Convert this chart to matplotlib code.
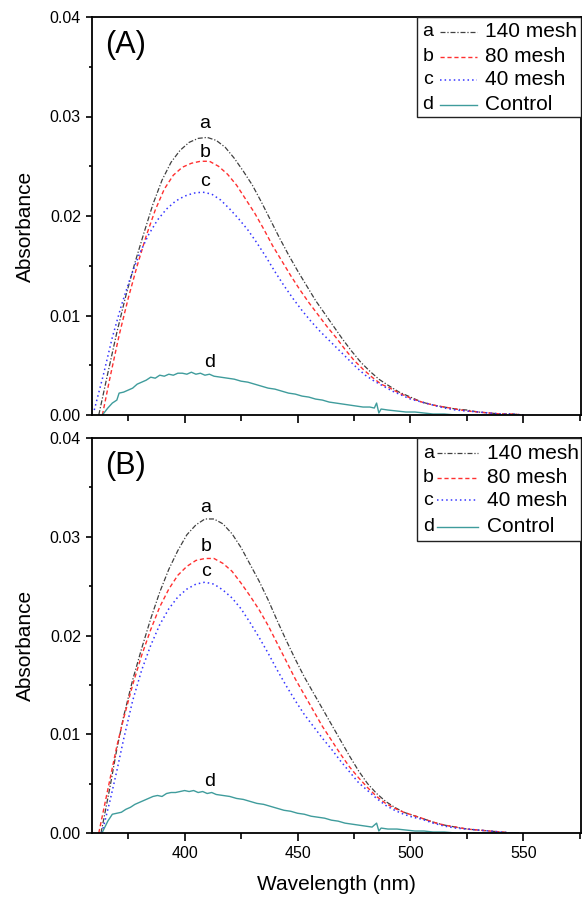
import matplotlib
matplotlib.use("Agg")
import matplotlib.pyplot as plt
from matplotlib.patches import Rectangle
from matplotlib.lines import Line2D
from matplotlib.ticker import MultipleLocator, FormatStrFormatter

plt.rcParams['font.family'] = ['Liberation Sans', 'DejaVu Sans']

# ---------------- Panel A data ----------------
A_a_wl = [362, 366, 370, 374, 378, 382, 386, 390, 394, 398, 402, 406, 410, 414, 418, 422, 426, 430,
          434, 438, 442, 446, 450, 454, 458, 462, 466, 470, 474, 478, 482, 486, 490, 495, 500, 505,
          510, 515, 520, 525, 530, 535, 540, 545, 550]
A_a = [0.0000, 0.0042, 0.0083, 0.0120, 0.0153, 0.0183, 0.0212, 0.0236, 0.0254, 0.0266, 0.0274, 0.0278,
       0.0279, 0.0276, 0.0269, 0.0258, 0.0245, 0.0231, 0.0214, 0.0196, 0.0178, 0.0161, 0.0145, 0.0130,
       0.0115, 0.0102, 0.0089, 0.0076, 0.0064, 0.0053, 0.0044, 0.0036, 0.0030, 0.0023, 0.0018, 0.0013,
       0.0010, 0.0008, 0.0006, 0.0005, 0.0003, 0.0002, 0.0001, 0.0001, 0.0000]

A_b_wl = [363.6, 367, 371, 375, 379, 383, 387, 391, 395, 399, 403, 407, 411, 415, 419, 423, 427, 431,
          435, 439, 443, 447, 451, 455, 459, 463, 467, 471, 475, 479, 483, 487, 491, 495, 500, 505,
          510, 515, 520, 525, 530, 535, 540, 545, 550]
A_b = [0.0000, 0.0038, 0.0080, 0.0117, 0.0150, 0.0180, 0.0206, 0.0227, 0.0241, 0.0249, 0.0253, 0.0255,
       0.0255, 0.0250, 0.0242, 0.0231, 0.0217, 0.0203, 0.0187, 0.0170, 0.0155, 0.0140, 0.0126, 0.0113,
       0.0101, 0.0089, 0.0078, 0.0066, 0.0055, 0.0046, 0.0038, 0.0031, 0.0027, 0.0022, 0.0017, 0.0013,
       0.0010, 0.0008, 0.0006, 0.0004, 0.0003, 0.0002, 0.0001, 0.0001, 0.0000]

A_c_wl = [360, 364, 368, 372, 376, 380, 384, 388, 392, 396, 400, 404, 408, 412, 416, 420, 424, 428,
          432, 436, 440, 444, 448, 452, 456, 460, 464, 468, 472, 476, 480, 484, 488, 492, 496, 500,
          505, 510, 515, 520, 525, 530, 535, 540, 545, 550]
A_c = [0.0005, 0.0040, 0.0078, 0.0110, 0.0138, 0.0162, 0.0181, 0.0196, 0.0207, 0.0215, 0.0220, 0.0223,
       0.0224, 0.0222, 0.0216, 0.0207, 0.0197, 0.0186, 0.0173, 0.0159, 0.0144, 0.0130, 0.0117, 0.0105,
       0.0094, 0.0084, 0.0075, 0.0066, 0.0057, 0.0048, 0.0040, 0.0034, 0.0029, 0.0024, 0.0020, 0.0016,
       0.0013, 0.0010, 0.0007, 0.0005, 0.0004, 0.0003, 0.0002, 0.0001, 0.0001, 0.0000]

A_d_wl = [363.6, 366, 368, 370, 371, 373, 375, 377, 379, 381, 383, 385, 387, 389, 391, 393, 395, 397,
          399, 401, 403, 405, 407, 409, 411, 413, 416, 419, 422, 425, 428, 431, 434, 437, 440, 443,
          446, 449, 452, 455, 458, 461, 464, 467, 470, 473, 476, 479, 482, 484, 485, 486, 487, 490,
          494, 498, 502, 506, 510, 515, 520, 530, 540, 548]
A_d = [0.0000, 0.0007, 0.0012, 0.0015, 0.0022, 0.0023, 0.0025, 0.0027, 0.0031, 0.0033, 0.0035, 0.0038,
       0.0037, 0.0040, 0.0039, 0.0041, 0.0040, 0.0042, 0.0042, 0.0041, 0.0043, 0.0041, 0.0042, 0.0040,
       0.0041, 0.0039, 0.0038, 0.0037, 0.0036, 0.0034, 0.0033, 0.0031, 0.0029, 0.0027, 0.0026, 0.0024,
       0.0022, 0.0021, 0.0019, 0.0018, 0.0016, 0.0015, 0.0013, 0.0012, 0.0011, 0.0010, 0.0009, 0.0008,
       0.0008, 0.0007, 0.0012, 0.0002, 0.0006, 0.0005, 0.0004, 0.0003, 0.0003, 0.0002, 0.0001, 0.0001,
       0.0000, 0.0000, 0.0000, 0.0000]

# ---------------- Panel B data ----------------
B_a_wl = [363, 367, 370, 373, 377, 381, 385, 389, 393, 397, 401, 405, 409, 413, 417, 421, 425, 429,
          433, 437, 441, 445, 449, 453, 457, 461, 465, 469, 473, 477, 481, 485, 489, 493, 497, 501,
          505, 510, 515, 520, 525, 530, 535, 540, 545, 548]
B_a = [0.0000, 0.0047, 0.0085, 0.0118, 0.0155, 0.0187, 0.0217, 0.0244, 0.0267, 0.0286, 0.0302, 0.0312,
       0.0318, 0.0318, 0.0313, 0.0303, 0.0289, 0.0272, 0.0255, 0.0236, 0.0215, 0.0195, 0.0176, 0.0158,
       0.0142, 0.0126, 0.0110, 0.0094, 0.0078, 0.0063, 0.0050, 0.0040, 0.0032, 0.0026, 0.0021, 0.0018,
       0.0015, 0.0011, 0.0008, 0.0006, 0.0004, 0.0003, 0.0002, 0.0001, 0.0000, 0.0000]

B_b_wl = [362, 367, 370, 373, 377, 381, 385, 389, 393, 397, 401, 405, 409, 413, 417, 421, 425, 429,
          433, 437, 441, 445, 449, 453, 457, 461, 465, 469, 473, 477, 481, 485, 489, 493, 497, 501,
          505, 510, 515, 520, 525, 530, 535, 540, 545, 548]
B_b = [0.0000, 0.0055, 0.0088, 0.0116, 0.0150, 0.0180, 0.0206, 0.0229, 0.0247, 0.0261, 0.0270, 0.0276,
       0.0278, 0.0278, 0.0273, 0.0265, 0.0253, 0.0240, 0.0226, 0.0210, 0.0192, 0.0174, 0.0156, 0.0140,
       0.0124, 0.0108, 0.0094, 0.0080, 0.0067, 0.0056, 0.0046, 0.0037, 0.0030, 0.0025, 0.0021, 0.0018,
       0.0015, 0.0011, 0.0008, 0.0006, 0.0004, 0.0003, 0.0002, 0.0001, 0.0000, 0.0000]

B_c_wl = [363.4, 367, 370, 373, 377, 381, 385, 389, 393, 397, 401, 405, 409, 413, 417, 421, 425, 429,
          433, 437, 441, 445, 449, 453, 457, 461, 465, 469, 473, 477, 481, 485, 489, 493, 497, 501,
          505, 510, 515, 520, 525, 530, 535, 540, 545, 548]
B_c = [0.0000, 0.0033, 0.0063, 0.0095, 0.0134, 0.0165, 0.0190, 0.0211, 0.0227, 0.0239, 0.0247, 0.0252,
       0.0254, 0.0252, 0.0246, 0.0238, 0.0227, 0.0213, 0.0198, 0.0182, 0.0165, 0.0149, 0.0134, 0.0120,
       0.0108, 0.0096, 0.0085, 0.0073, 0.0062, 0.0051, 0.0043, 0.0035, 0.0028, 0.0023, 0.0019, 0.0016,
       0.0014, 0.0010, 0.0007, 0.0005, 0.0004, 0.0003, 0.0002, 0.0001, 0.0000, 0.0000]

B_d_wl = [363.4, 366, 368, 370, 372, 374, 376, 378, 380, 382, 384, 386, 388, 390, 392, 394, 396, 398,
          400, 402, 404, 406, 408, 410, 412, 414, 417, 420, 423, 426, 429, 432, 435, 438, 441, 444,
          447, 450, 453, 456, 459, 462, 465, 468, 471, 474, 477, 480, 483, 485, 486, 487, 490, 494,
          498, 502, 506, 510, 515, 520, 530, 540, 548]
B_d = [0.0000, 0.0012, 0.0019, 0.0020, 0.0021, 0.0024, 0.0026, 0.0029, 0.0031, 0.0033, 0.0035, 0.0037,
       0.0038, 0.0037, 0.0040, 0.0041, 0.0041, 0.0042, 0.0043, 0.0042, 0.0043, 0.0041, 0.0042, 0.0040,
       0.0041, 0.0039, 0.0038, 0.0037, 0.0035, 0.0034, 0.0032, 0.0030, 0.0029, 0.0027, 0.0025, 0.0023,
       0.0022, 0.0020, 0.0019, 0.0017, 0.0016, 0.0015, 0.0013, 0.0012, 0.0010, 0.0009, 0.0008, 0.0007,
       0.0006, 0.0010, 0.0002, 0.0005, 0.0004, 0.0004, 0.0003, 0.0002, 0.0002, 0.0001, 0.0001, 0.0000,
       0.0000, 0.0000, 0.0000]

series_letters = ['a', 'b', 'c', 'd']
series_names = ['140 mesh', '80 mesh', '40 mesh', 'Control']
panel_titles = ['(A)', '(B)']

# label positions (wavelength, absorbance) for curve letters
A_label_pos = [(409, 0.0293), (409, 0.0264), (409, 0.0235), (411, 0.0053)]
B_label_pos = [(409.5, 0.0330), (409.5, 0.0290), (409.5, 0.0265), (411, 0.0052)]

styles = [
    dict(color='#404040', linestyle=(0, (4, 1.5, 1, 1.5)), linewidth=0.9),
    dict(color='#ff3030', linestyle=(0, (3, 2)), linewidth=1.0),
    dict(color='#3535ff', linestyle=(0, (1, 2)), linewidth=1.1),
    dict(color='#3f9c9c', linestyle='-', linewidth=1.0),
]

W, H = 588, 898
fig = plt.figure(figsize=(W / 100, H / 100), dpi=100)


def ax_rect(left, top, right, bottom):
    return [left / W, 1 - bottom / H, (right - left) / W, (bottom - top) / H]


axA = fig.add_axes(ax_rect(92, 17, 581, 415))
axB = fig.add_axes(ax_rect(92, 438, 581, 833))

panels = [
    (axA, [(A_a_wl, A_a), (A_b_wl, A_b), (A_c_wl, A_c), (A_d_wl, A_d)], A_label_pos,
     dict(box=(0.665, 0.7495), rows=[0.963, 0.900, 0.842, 0.779], letter_x=0.687, line=(0.712, 0.787), text_x=0.804)),
    (axB, [(B_a_wl, B_a), (B_b_wl, B_b), (B_c_wl, B_c), (B_d_wl, B_d)], B_label_pos,
     dict(box=(0.664, 0.740), rows=[0.961, 0.899, 0.843, 0.775], letter_x=0.688, line=(0.706, 0.790), text_x=0.807)),
]

for i, (ax, data, lpos, leg) in enumerate(panels):
    for (wl, ab), st in zip(data, styles):
        ax.plot(wl, ab, **st)
    for (lx, ly), letter in zip(lpos, series_letters):
        ax.text(lx, ly, letter, fontsize=14, ha='center', va='center')
    ax.set_xlim(359, 575.5)
    ax.set_ylim(0, 0.04)
    ax.xaxis.set_major_locator(MultipleLocator(50))
    ax.xaxis.set_minor_locator(MultipleLocator(25))
    ax.yaxis.set_major_locator(MultipleLocator(0.01))
    ax.yaxis.set_minor_locator(MultipleLocator(0.005))
    ax.yaxis.set_major_formatter(FormatStrFormatter('%.2f'))
    ax.tick_params(axis='both', which='both', direction='out', width=1.2, labelsize=11.5)
    ax.tick_params(axis='x', which='major', length=6)
    ax.tick_params(axis='x', which='minor', length=4.5)
    ax.tick_params(axis='y', which='major', length=4.5)
    ax.tick_params(axis='y', which='minor', length=2.5)
    for sp in ax.spines.values():
        sp.set_linewidth(1.3)
    ax.set_ylabel('Absorbance', fontsize=15)
    ax.yaxis.set_label_coords(-0.117, 0.475)
    ax.text(0.027, 0.93, panel_titles[i], transform=ax.transAxes, fontsize=22,
            ha='left', va='center')

    # legend box
    bx, by = leg['box']
    ax.add_patch(Rectangle((bx, by), 1 - bx, 1 - by, transform=ax.transAxes,
                           facecolor='white', edgecolor='#222222', linewidth=1.0, zorder=5))
    for ry, letter, name, st in zip(leg['rows'], series_letters, series_names, styles):
        ax.text(leg['letter_x'], ry, letter, transform=ax.transAxes, fontsize=14,
                ha='center', va='center', zorder=6)
        ax.add_line(Line2D(list(leg['line']), [ry, ry], transform=ax.transAxes, zorder=6, **st))
        ax.text(leg['text_x'], ry, name, transform=ax.transAxes, fontsize=15,
                ha='left', va='center', zorder=6)

axA.tick_params(axis='x', labelbottom=False)
axB.set_xlabel('Wavelength (nm)', fontsize=15, labelpad=10)

fig.savefig('out.png', dpi=100)
